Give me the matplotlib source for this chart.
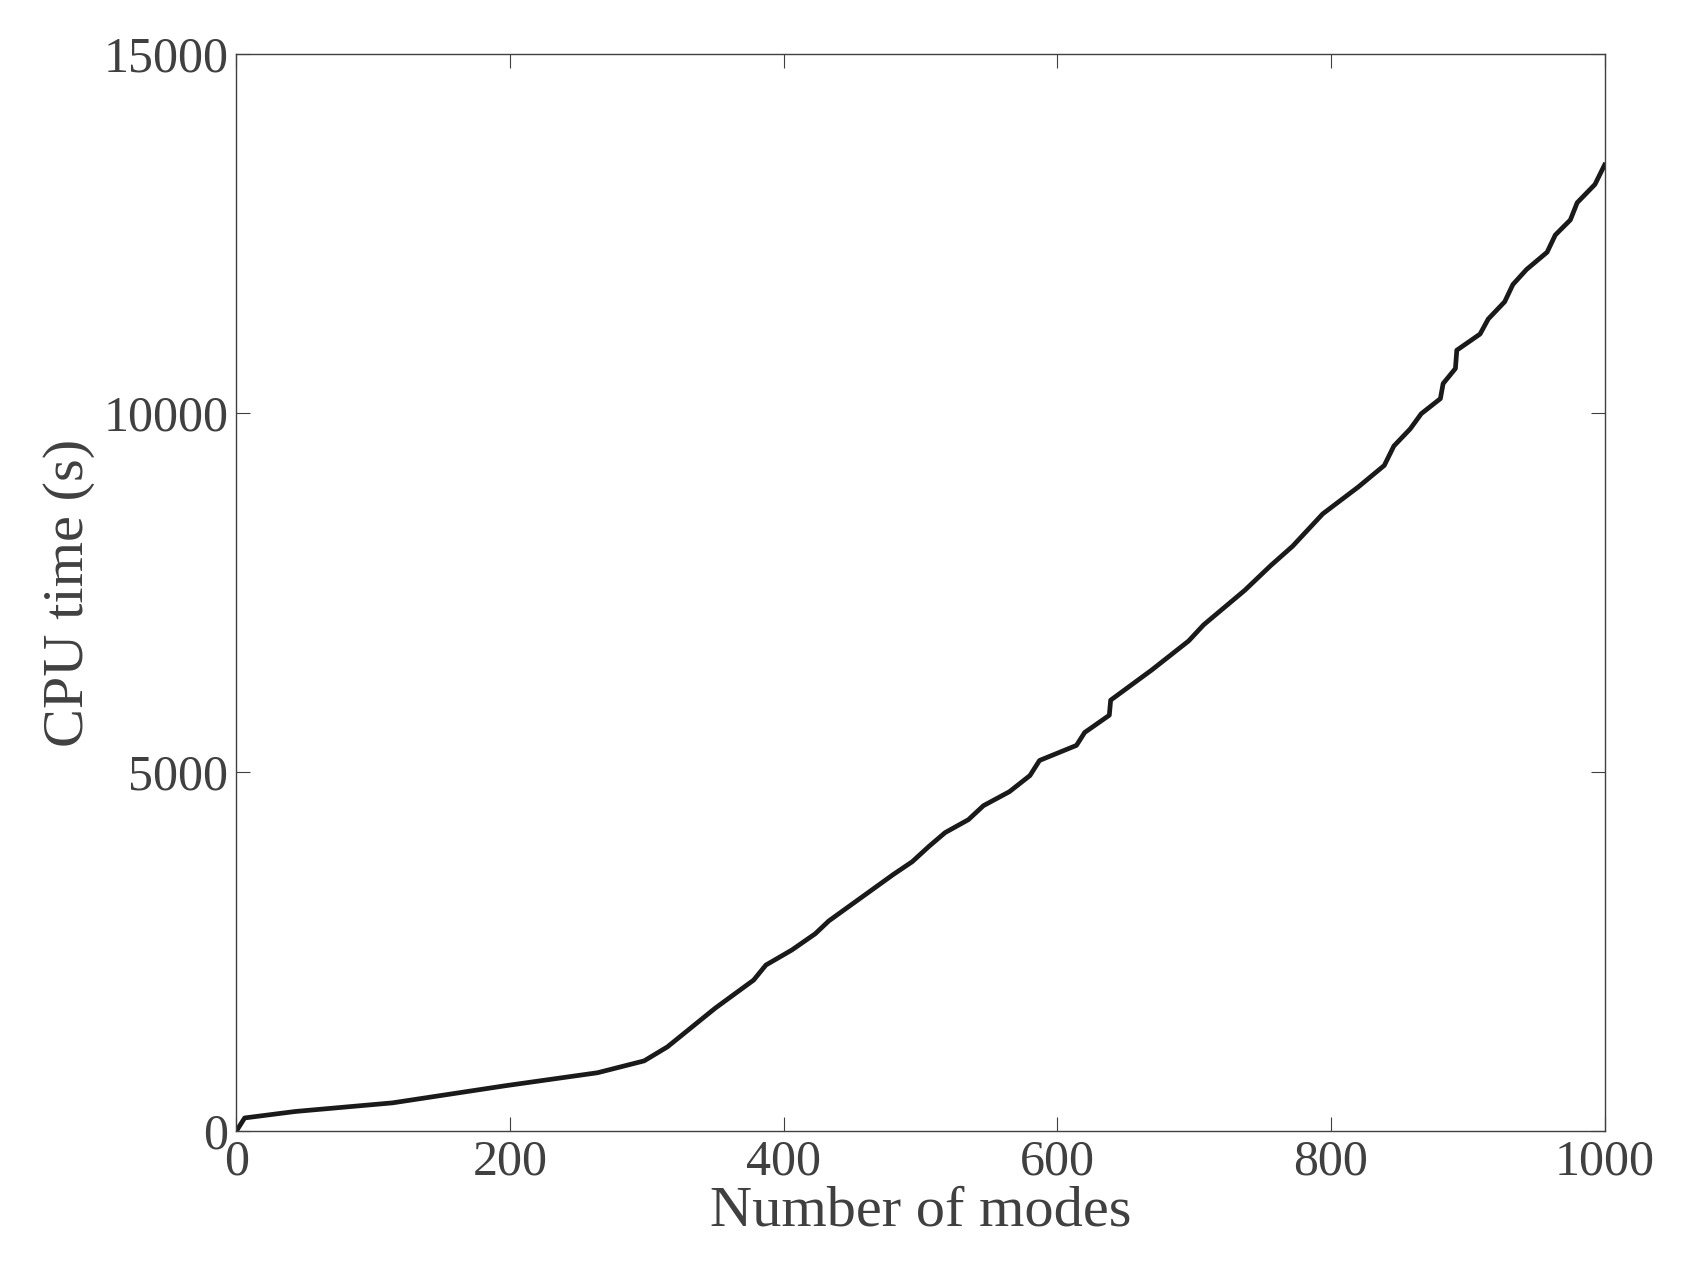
import matplotlib
matplotlib.use("Agg")
import matplotlib.pyplot as plt

modes = [0,6,43,114,197,264,298,315,350,378,387,406,423,433,480,494,506,518,535,546,565,580,587,614,620,638,639,669,696,707,737,756,772,794,820,839,846,858,866,880,882,891,892,909,915,927,933,943,958,964,975,980,993,1000]
cpu = [0,180,270,390,630,810,975,1170,1710,2100,2310,2520,2745,2925,3570,3750,3960,4155,4335,4530,4725,4950,5160,5370,5550,5790,6000,6420,6825,7050,7530,7875,8145,8595,8970,9270,9540,9780,9990,10200,10410,10620,10875,11100,11310,11550,11790,12000,12240,12480,12690,12930,13185,13455]

plt.rcParams['font.family'] = ['Liberation Serif']
fig = plt.figure(figsize=(16.89, 12.88), dpi=100)
ax = fig.add_axes([0.14, 0.122, 0.81, 0.836])
ax.plot(modes, cpu, color='#1a1a1a', lw=3.4)
ax.set_xlim(0, 1000); ax.set_ylim(0, 15000)
ax.set_xticks([0,200,400,600,800,1000]); ax.set_yticks([0,5000,10000,15000])
gray = '#404040'
ax.tick_params(direction='in', top=True, right=True, length=10, labelsize=36, colors=gray, pad=6)
for s in ax.spines.values():
    s.set_color(gray); s.set_linewidth(1)
ax.set_xlabel('Number of modes', fontsize=42, color=gray, labelpad=0)
ax.set_ylabel('CPU time (s)', fontsize=42, color=gray, labelpad=6)
fig.savefig('out.png', dpi=100, facecolor='white')
